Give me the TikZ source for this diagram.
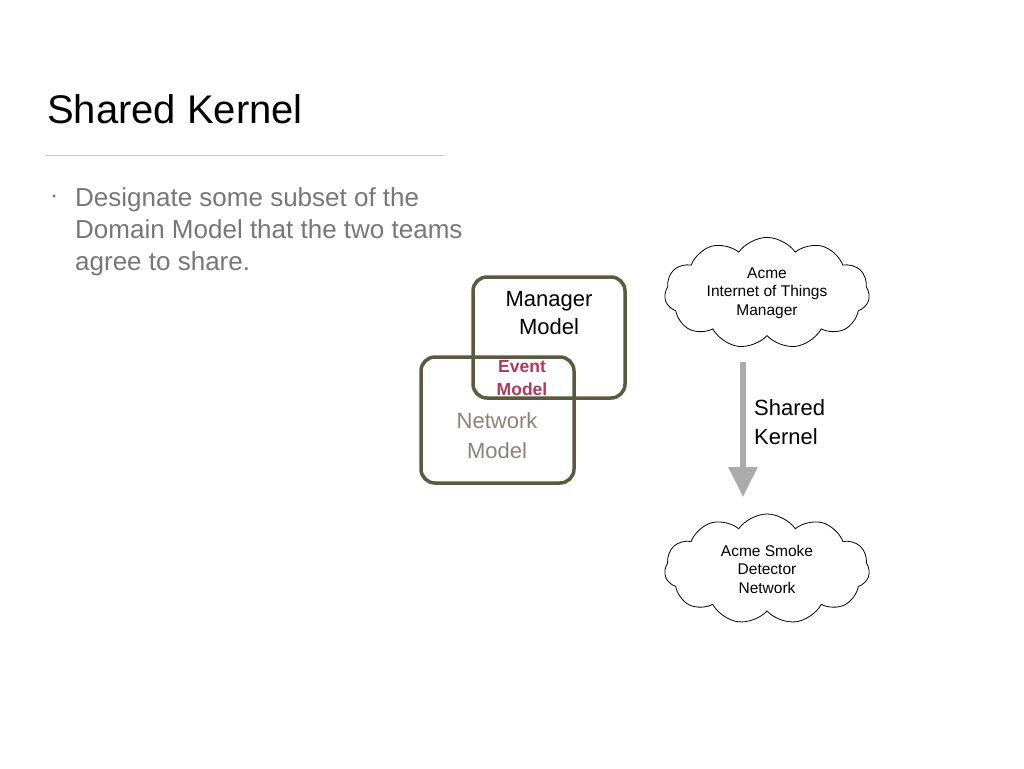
\documentclass[tikz,border=0pt]{standalone}
\usepackage{fontspec}
\setmainfont{Liberation Sans}
\usetikzlibrary{shapes.symbols,arrows.meta}
\definecolor{boxline}{HTML}{5B5A3E}
\definecolor{bodygray}{HTML}{777777}
\definecolor{eventred}{HTML}{B0385C}
\definecolor{netgray}{HTML}{8A8474}
\definecolor{arrowgray}{HTML}{ABABAB}
\begin{document}
\begin{tikzpicture}[x=1pt,y=-1pt,
  modelbox/.style={draw=boxline,line width=3.5pt,rounded corners=14pt},
  cloudnode/.style={cloud,draw,line width=0.8pt,cloud puffs=11,cloud puff arc=110,
    aspect=1.9,minimum width=205pt,minimum height=110pt,inner sep=0pt,
    align=center,font=\fontsize{15.5}{18.5}\selectfont},
  label/.style={align=center,inner sep=0pt}]
\useasboundingbox[fill=white] (0,0) rectangle (1024,768);
% title
\node[anchor=base west,inner sep=0pt,font=\fontsize{40}{48}\selectfont] (title) at (47,123) {Shared Kernel};
\coordinate (r1) at (45,155);
\coordinate (r2) at (444,155);
\draw[gray!45,line width=1pt] (r1) -- (r2);
% bullet
\fill[bodygray] (54,196) circle (1.6pt);
\node[anchor=base west,inner sep=0pt,align=left,text=bodygray,
  font=\fontsize{26}{32}\selectfont] (body) at (75,270)
  {Designate some subset of the\\Domain Model that the two teams\\agree to share.};
% boxes
\draw[modelbox] (473,277) rectangle (625,398);
\draw[modelbox] (421,357) rectangle (574,483);
\node[label,font=\fontsize{22}{28}\selectfont] (mgr) at (549,313) {Manager\\Model};
\node[label,text=eventred,font=\bfseries\fontsize{17.5}{23}\selectfont] (evt) at (522,378) {Event\\Model};
\node[label,text=netgray,font=\fontsize{22}{30}\selectfont] (net) at (497,436) {Network\\Model};
% clouds
\node[cloudnode] (top) at (767,293) {Acme\\Internet of Things\\Manager};
\node[cloudnode] (bot) at (767,569) {Acme Smoke\\Detector\\Network};
% arrow
\coordinate (as) at (743,362);
\coordinate (ae) at (743,497);
\draw[arrowgray,line width=6pt,-{Triangle[width=28pt,length=30pt]}] (as) -- (ae);
\node[anchor=west,align=left,inner sep=0pt,font=\fontsize{22}{29}\selectfont] (sk) at (754,422) {Shared\\Kernel};
\end{tikzpicture}
\end{document}
